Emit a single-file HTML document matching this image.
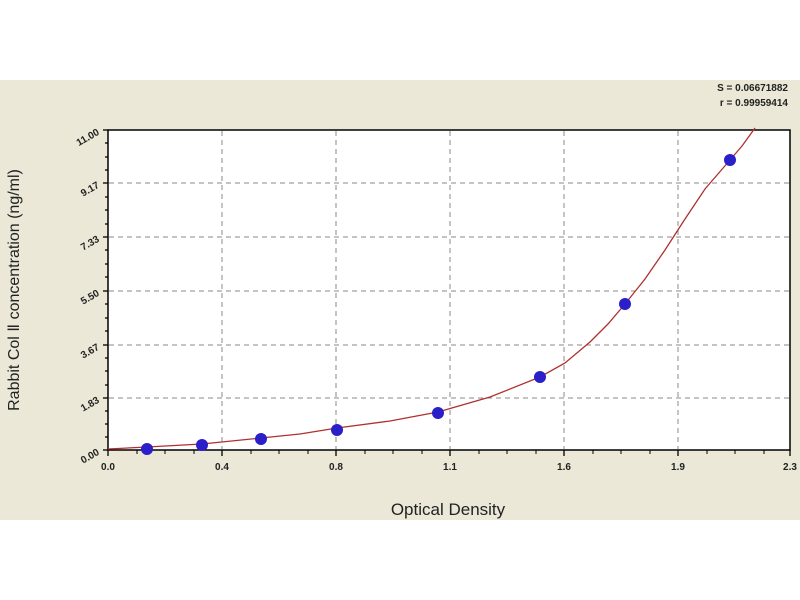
<!DOCTYPE html>
<html><head><meta charset="utf-8"><style>
html,body{margin:0;padding:0;background:#fff;}
svg{display:block;font-family:"Liberation Sans",sans-serif;}
</style></head><body>
<svg width="800" height="600" viewBox="0 0 800 600">
<rect x="0" y="80" width="800" height="440" fill="#ebe8d8"/>
<rect x="108" y="130" width="682" height="320" fill="#fff" stroke="#000" stroke-width="1.5"/>
<g stroke="#888" stroke-dasharray="5,4" stroke-width="1">
<line x1="222" y1="131" x2="222" y2="449"/>
<line x1="336" y1="131" x2="336" y2="449"/>
<line x1="450" y1="131" x2="450" y2="449"/>
<line x1="564" y1="131" x2="564" y2="449"/>
<line x1="678" y1="131" x2="678" y2="449"/>
<line x1="109" y1="183" x2="789" y2="183"/>
<line x1="109" y1="237" x2="789" y2="237"/>
<line x1="109" y1="291" x2="789" y2="291"/>
<line x1="109" y1="345" x2="789" y2="345"/>
<line x1="109" y1="398" x2="789" y2="398"/>
</g>
<g stroke="#000" stroke-width="1.3">
<line x1="103" y1="130" x2="108" y2="130"/><line x1="103" y1="183" x2="108" y2="183"/>
<line x1="103" y1="237" x2="108" y2="237"/><line x1="103" y1="291" x2="108" y2="291"/>
<line x1="103" y1="345" x2="108" y2="345"/><line x1="103" y1="398" x2="108" y2="398"/>
<line x1="103" y1="450" x2="108" y2="450"/>
<line x1="105" y1="143" x2="108" y2="143"/><line x1="105" y1="157" x2="108" y2="157"/><line x1="105" y1="170" x2="108" y2="170"/>
<line x1="105" y1="197" x2="108" y2="197"/><line x1="105" y1="210" x2="108" y2="210"/><line x1="105" y1="224" x2="108" y2="224"/>
<line x1="105" y1="250" x2="108" y2="250"/><line x1="105" y1="264" x2="108" y2="264"/><line x1="105" y1="277" x2="108" y2="277"/>
<line x1="105" y1="304" x2="108" y2="304"/><line x1="105" y1="318" x2="108" y2="318"/><line x1="105" y1="331" x2="108" y2="331"/>
<line x1="105" y1="358" x2="108" y2="358"/><line x1="105" y1="371" x2="108" y2="371"/><line x1="105" y1="385" x2="108" y2="385"/>
<line x1="105" y1="411" x2="108" y2="411"/><line x1="105" y1="424" x2="108" y2="424"/><line x1="105" y1="437" x2="108" y2="437"/>
<line x1="108" y1="450" x2="108" y2="456"/><line x1="222" y1="450" x2="222" y2="456"/><line x1="336" y1="450" x2="336" y2="456"/>
<line x1="450" y1="450" x2="450" y2="456"/><line x1="564" y1="450" x2="564" y2="456"/><line x1="678" y1="450" x2="678" y2="456"/><line x1="790" y1="450" x2="790" y2="456"/>
</g>
<g stroke="#000" stroke-width="1">
<line x1="137" y1="450" x2="137" y2="454"/><line x1="165" y1="450" x2="165" y2="454"/><line x1="194" y1="450" x2="194" y2="454"/>
<line x1="251" y1="450" x2="251" y2="454"/><line x1="279" y1="450" x2="279" y2="454"/><line x1="308" y1="450" x2="308" y2="454"/>
<line x1="365" y1="450" x2="365" y2="454"/><line x1="393" y1="450" x2="393" y2="454"/><line x1="422" y1="450" x2="422" y2="454"/>
<line x1="479" y1="450" x2="479" y2="454"/><line x1="507" y1="450" x2="507" y2="454"/><line x1="536" y1="450" x2="536" y2="454"/>
<line x1="593" y1="450" x2="593" y2="454"/><line x1="621" y1="450" x2="621" y2="454"/><line x1="650" y1="450" x2="650" y2="454"/>
<line x1="707" y1="450" x2="707" y2="454"/><line x1="735" y1="450" x2="735" y2="454"/><line x1="764" y1="450" x2="764" y2="454"/>
</g>
<polyline fill="none" stroke="#b03030" stroke-width="1.3" points="108,449 147,447 202,444 261,438 300,434 337,428 390,421 438,412 490,397 540,377 565,363 590,342 608,324 625,304 645,279 665,250 685,219 705,189 730,160 742,146 755,128"/>
<g fill="#2a1fc8">
<circle cx="147" cy="449" r="6"/><circle cx="202" cy="445" r="6"/><circle cx="261" cy="439" r="6"/>
<circle cx="337" cy="430" r="6"/><circle cx="438" cy="413" r="6"/><circle cx="540" cy="377" r="6"/>
<circle cx="625" cy="304" r="6"/><circle cx="730" cy="160" r="6"/>
</g>
<g font-size="10" font-weight="bold" fill="#222" text-anchor="end">
<text x="100" y="134" transform="rotate(-30 100 134)">11.00</text>
<text x="100" y="187" transform="rotate(-30 100 187)">9.17</text>
<text x="100" y="241" transform="rotate(-30 100 241)">7.33</text>
<text x="100" y="295" transform="rotate(-30 100 295)">5.50</text>
<text x="100" y="349" transform="rotate(-30 100 349)">3.67</text>
<text x="100" y="402" transform="rotate(-30 100 402)">1.83</text>
<text x="100" y="454" transform="rotate(-30 100 454)">0.00</text>
</g>
<g font-size="10" font-weight="bold" fill="#222" text-anchor="middle">
<text x="108" y="470">0.0</text><text x="222" y="470">0.4</text><text x="336" y="470">0.8</text>
<text x="450" y="470">1.1</text><text x="564" y="470">1.6</text><text x="678" y="470">1.9</text><text x="790" y="470">2.3</text>
</g>
<text x="448" y="515" font-size="17" text-anchor="middle" fill="#222">Optical Density</text>
<text transform="translate(19 290) rotate(-90)" font-size="16" text-anchor="middle" fill="#222">Rabbit Col Ⅱ concentration (ng/ml)</text>
<g font-size="10" font-weight="bold" fill="#222" text-anchor="end">
<text x="788" y="91">S = 0.06671882</text>
<text x="788" y="106">r = 0.99959414</text>
</g>
</svg>
</body></html>
